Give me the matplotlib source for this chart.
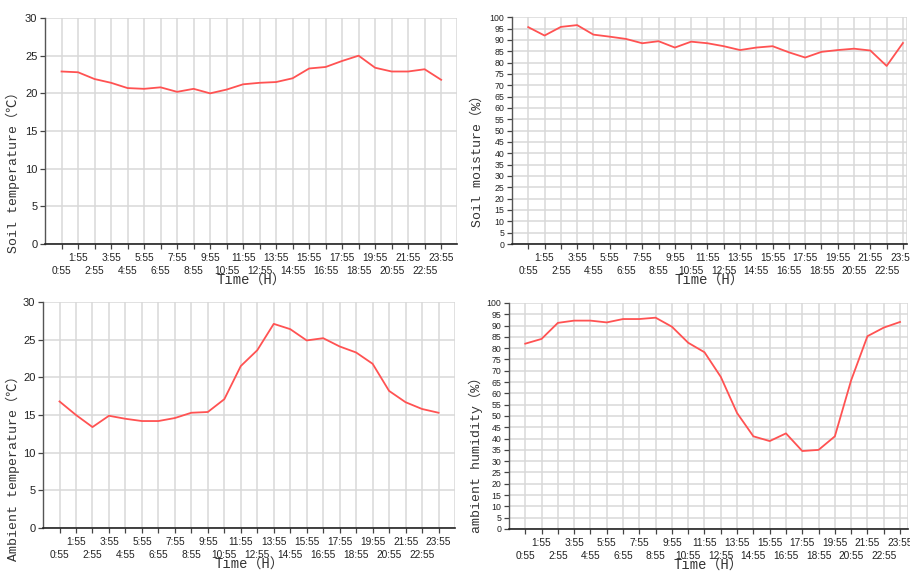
import matplotlib
matplotlib.use("Agg")
import matplotlib.pyplot as plt
from matplotlib import font_manager
from matplotlib.ticker import FixedLocator, FixedFormatter

times = [f"{h}:55" for h in range(24)]

soil_temp = [22.9, 22.8, 21.9, 21.4, 20.7, 20.6, 20.8, 20.2, 20.6, 20.0, 20.5, 21.2,
             21.4, 21.5, 22.0, 23.3, 23.5, 24.3, 25.0, 23.4, 22.9, 22.9, 23.2, 21.8]
soil_moist = [95.6, 91.9, 95.7, 96.5, 92.3, 91.4, 90.4, 88.5, 89.4, 86.6, 89.2, 88.5,
              87.2, 85.5, 86.6, 87.2, 84.5, 82.2, 84.7, 85.5, 86.1, 85.3, 78.5, 88.6]
amb_temp = [16.8, 15.0, 13.4, 14.9, 14.5, 14.2, 14.2, 14.6, 15.3, 15.4, 17.1, 21.5,
            23.6, 27.1, 26.4, 24.9, 25.2, 24.1, 23.3, 21.8, 18.2, 16.7, 15.8, 15.3]
amb_hum = [82.0, 84.1, 91.2, 92.2, 92.2, 91.4, 92.9, 92.9, 93.5, 89.5, 82.4, 78.2,
           67.3, 51.3, 41.0, 38.9, 42.3, 34.5, 35.0, 41.0, 65.8, 85.3, 89.1, 91.6]

ylabels = ["Soil temperature（℃）", "Soil moisture（%）",
           "Ambient temperature（℃）", "ambient humidity（%）"]
xlabel = "Time（H）"

names = {f.name for f in font_manager.fontManager.ttflist}
tick_font = ["Liberation Sans Narrow"] if "Liberation Sans Narrow" in names else ["Liberation Sans"]
label_font = ["Liberation Mono", "Noto Sans CJK SC", "DejaVu Sans"]

fig = plt.figure(figsize=(9.10, 5.72), dpi=100)

# rect, ymax, ystep, xright, ytick fontsize, ylabel coords
panels = [
    (soil_temp, [0.0495, 0.5734, 0.4525, 0.3951], 30, 5, 23.95, 8, ylabels[0], (-0.060, 0.33)),
    (soil_moist, [0.5626, 0.5734, 0.4341, 0.3966], 100, 5, 23.25, 6.3, ylabels[1], (-0.072, 0.38)),
    (amb_temp, [0.0473, 0.0769, 0.4527, 0.3951], 30, 5, 24.0, 8, ylabels[2], (-0.055, 0.28)),
    (amb_hum, [0.5593, 0.0752, 0.4387, 0.3951], 100, 5, 23.5, 6.3, ylabels[3], (-0.066, 0.34)),
]

xs = list(range(len(times)))
even = xs[0::2]
odd = xs[1::2]
for vals, rect, ymax, ystep, xright, yfs, ylab, lc in panels:
    ax = fig.add_axes(rect)
    ax.plot(xs, vals, color="#ff5252", lw=1.3, zorder=3)
    ax.set_xlim(-1, xright)
    ax.set_ylim(0, ymax)
    ax.set_yticks(list(range(0, ymax + 1, ystep)))
    ax.xaxis.set_major_locator(FixedLocator(even))
    ax.xaxis.set_major_formatter(FixedFormatter([times[i] for i in even]))
    ax.xaxis.set_minor_locator(FixedLocator(odd))
    ax.xaxis.set_minor_formatter(FixedFormatter([times[i] for i in odd]))
    for lab in ax.get_xticklabels(which="both"):
        lab.set_family(tick_font)
        lab.set_fontsize(7.3)
        lab.set_color("#222222")
    for lab in ax.get_yticklabels():
        lab.set_family(tick_font)
        lab.set_fontsize(yfs)
        lab.set_color("#222222")
    ax.grid(True, which="both", axis="x", color="#d8d8d8", lw=1.1, zorder=0)
    ax.grid(True, which="major", axis="y", color="#d8d8d8", lw=1.1, zorder=0)
    ax.axvline(xright, color="#d8d8d8", lw=1.1, zorder=0)
    for s in ["top", "right"]:
        ax.spines[s].set_visible(False)
    ax.spines["left"].set_color("#555555")
    ax.spines["bottom"].set_color("#222222")
    ax.spines["left"].set_linewidth(1.0)
    ax.spines["bottom"].set_linewidth(1.2)
    ax.tick_params(axis="both", which="both", length=3.5, width=0.9, color="#444444")
    ax.tick_params(axis="y", pad=2)
    ax.tick_params(axis="x", which="minor", pad=3)
    ax.tick_params(axis="x", which="major", pad=12)
    ax.set_ylabel(ylab, family=label_font, fontsize=9.5, color="#333333")
    ax.yaxis.set_label_coords(*lc)
    ax.set_xlabel(xlabel, family=label_font, fontsize=10, color="#333333", labelpad=-1)

fig.savefig("out.png", dpi=100)
